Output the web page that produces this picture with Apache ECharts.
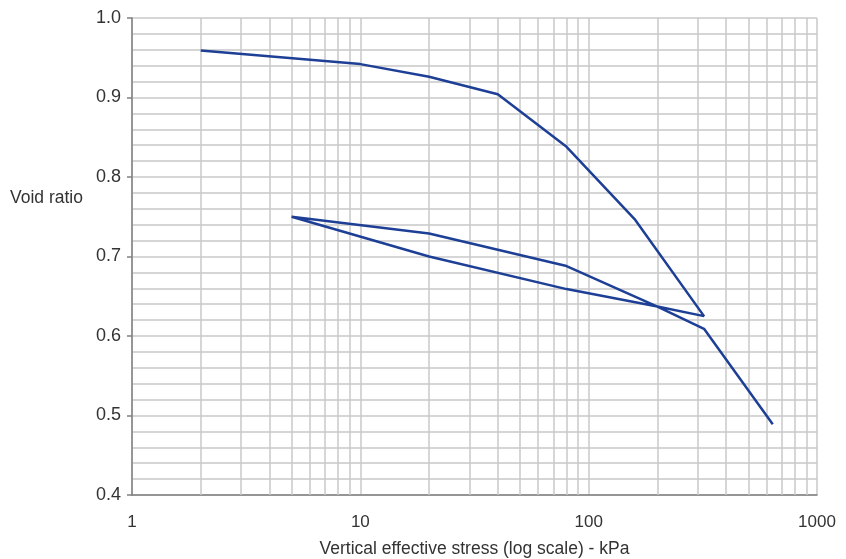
<!DOCTYPE html>
<html>
<head>
<meta charset="utf-8">
<script src="https://cdn.jsdelivr.net/npm/echarts@6/dist/echarts.min.js"></script>
<style>html,body{margin:0;padding:0;background:#fff}#c{width:846px;height:559px}</style>
</head>
<body>
<div id="c"></div>
<script>
// Void ratio path (loading, unloading, reloading), stress in kPa
const stress = [2, 10, 20, 40, 80, 160, 320, 200, 80, 20, 5, 20, 80, 200, 320, 640];
const voidRatio = [0.959, 0.942, 0.926, 0.904, 0.838, 0.746, 0.625, 0.637, 0.688, 0.729, 0.750, 0.700, 0.659, 0.637, 0.609, 0.489];
const xGridMinor = [2,3,4,5,6,7,8,9,20,30,40,50,60,70,80,90,200,300,400,500,600,700,800,900];
const yTicks = [0.4, 0.5, 0.6, 0.7, 0.8, 0.9, 1.0];
const xTicks = [1, 10, 100, 1000];

const FONT = 'Liberation Sans';
const chart = echarts.init(document.getElementById('c'), null, {renderer: 'canvas'});
const gridColor = '#c8c8c8';
const axisColor = '#808080';

chart.setOption({
  animation: false,
  textStyle: {fontFamily: FONT},
  title: {
    text: 'Void ratio', left: 10, top: 189, padding: 0,
    textStyle: {fontSize: 17.5, fontWeight: 'normal', color: '#333', fontFamily: FONT}
  },
  grid: {left: 132, right: 29, top: 18, bottom: 64, containLabel: false, outerBoundsMode: 'none'},
  xAxis: {
    type: 'log', logBase: 10, min: xTicks[0], max: xTicks[xTicks.length - 1],
    name: 'Vertical effective stress (log scale) - kPa',
    nameLocation: 'middle', nameGap: 45,
    nameTextStyle: {fontSize: 17.5, color: '#333', fontFamily: FONT},
    axisLine: {show: true, lineStyle: {color: axisColor, width: 1.5}},
    axisTick: {show: false},
    axisLabel: {fontSize: 17, color: '#333', margin: 19, fontFamily: FONT,
      formatter: v => String(Math.round(v))},
    splitLine: {show: true, lineStyle: {color: gridColor, width: 1.5}},
    minorTick: {show: false},
    minorSplitLine: {show: false}
  },
  yAxis: {
    type: 'value', min: yTicks[0], max: yTicks[yTicks.length - 1], interval: 0.1,
    axisLine: {show: true, lineStyle: {color: axisColor, width: 1.5}},
    axisTick: {show: true, length: 5, lineStyle: {color: axisColor, width: 1.5}},
    axisLabel: {fontSize: 18, color: '#333', margin: 11, fontFamily: FONT,
      formatter: v => v.toFixed(1)},
    splitLine: {show: true, lineStyle: {color: gridColor, width: 1.5}},
    minorTick: {show: false, splitNumber: 5},
    minorSplitLine: {show: true, lineStyle: {color: gridColor, width: 1.5}}
  },
  series: [
    {
      type: 'line', data: [], z: 1, silent: true,
      markLine: {
        z: 1, silent: true, symbol: ['none', 'none'], label: {show: false},
        lineStyle: {type: 'solid', color: gridColor, width: 1.5},
        emphasis: {disabled: true},
        data: xGridMinor.map(v => ({xAxis: v}))
      }
    },
    {
      type: 'line', z: 6,
      data: stress.map((s, i) => [s, voidRatio[i]]),
      showSymbol: false, symbol: 'none',
      lineStyle: {color: '#1e3f96', width: 2.5},
      itemStyle: {color: '#1e3f96'}
    }
  ]
});
</script>
</body>
</html>
